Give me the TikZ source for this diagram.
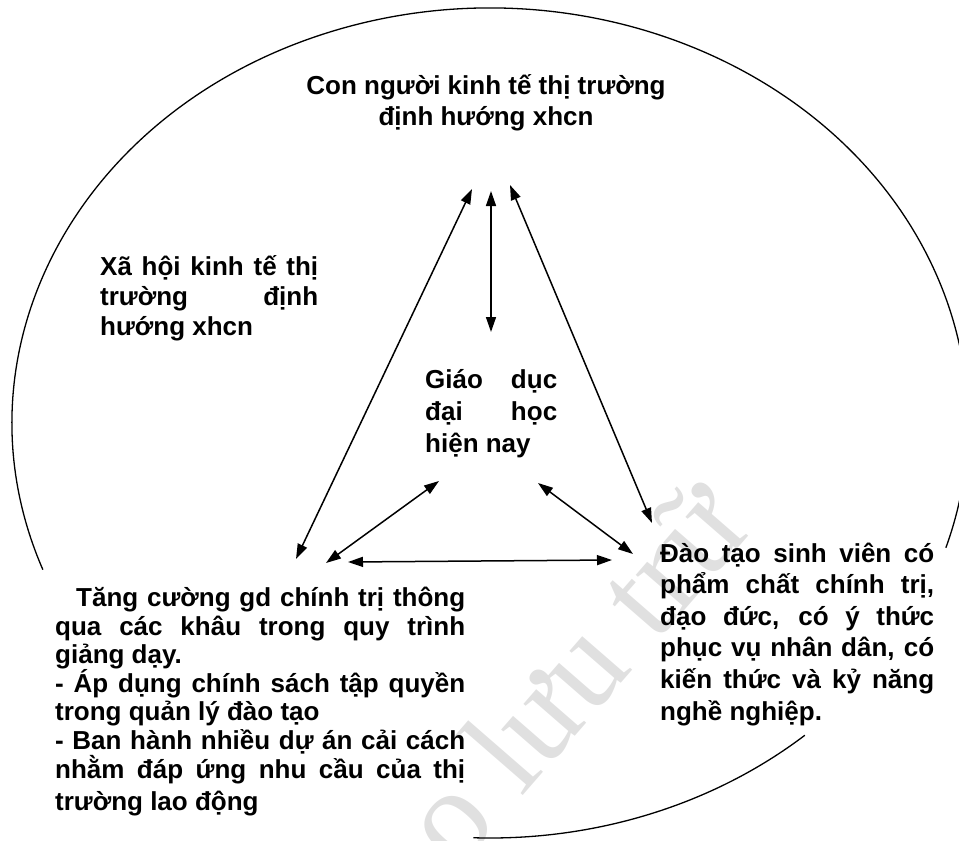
\documentclass[tikz,border=0pt]{standalone}
\usepackage{fontspec}
\setmainfont{Liberation Sans}
\newfontfamily\wmfont{Liberation Serif}
\usetikzlibrary{arrows.meta}
\newcommand{\jl}[2]{\makebox[#1pt][s]{#2}}
\begin{document}
\begin{tikzpicture}[x=1pt,y=1pt,
  txt/.style={font=\bfseries\fontsize{26}{31}\selectfont, inner sep=0pt, align=left, anchor=base west},
  link/.style={line width=1.5pt, {Triangle[length=15pt,width=10pt]}-{Triangle[length=15pt,width=10pt]}},
  rim/.style={line width=1.3pt}]
\useasboundingbox (0,0) rectangle (959,-841);
\clip (0,0) rectangle (959,-841);
% watermark
\node[rotate=49, text=black!12, font=\wmfont\fontsize{130}{130}\selectfont, inner sep=0pt] (wm) at (572,-672) {o lưu trữ};
% outer ellipse
\draw[rim] (490,-423) ++(200.7:478pt and 415pt) arc[start angle=200.7, end angle=-17.5, x radius=478pt, y radius=415pt];
\draw[rim] (490,-423) ++(-48.8:478pt and 415pt) arc[start angle=-48.8, end angle=-92, x radius=478pt, y radius=415pt];
% texts (anchor = baseline of the last line)
\node[txt, align=center, anchor=base] (top) at (486,-125)
  {Con người kinh tế thị trường\\định hướng xhcn};
\node[txt, font=\bfseries\fontsize{26}{30}\selectfont] (soc) at (100,-335)
  {\jl{218}{Xã hội kinh tế thị}\\\jl{218}{trường định}\\hướng xhcn};
\node[txt, font=\bfseries\fontsize{26}{32}\selectfont] (edu) at (425,-452)
  {\jl{132}{Giáo dục}\\\jl{132}{đại học}\\hiện nay};
\node[txt, font=\bfseries\fontsize{26}{28.6}\selectfont] (pol) at (55,-810)
  {\hspace*{21pt}\jl{389}{Tăng cường gd chính trị thông}\\
   \jl{410}{qua các khâu trong quy trình}\\
   giảng dạy.\\
   \jl{410}{- Áp dụng chính sách tập quyền}\\
   trong quản lý đào tạo\\
   \jl{410}{- Ban hành nhiều dự án cải cách}\\
   \jl{410}{nhằm đáp ứng nhu cầu của thị}\\[3.4pt]
   trường lao động};
\node[txt, font=\bfseries\fontsize{26}{31.6}\selectfont] (stu) at (660,-720)
  {\jl{274}{Đào tạo sinh viên có}\\
   \jl{274}{phẩm chất chính trị,}\\
   \jl{274}{đạo đức, có ý thức}\\
   \jl{274}{phục vụ nhân dân, có}\\
   \jl{274}{kiến thức và kỷ năng}\\
   nghề nghiệp.};
% arrow end points
\coordinate (tl) at (472,-189);
\coordinate (bl1) at (296,-559);
\coordinate (tm) at (491,-191);
\coordinate (cm) at (491,-332);
\coordinate (tr) at (510,-185);
\coordinate (br1) at (652,-523);
\coordinate (bl2) at (326,-563);
\coordinate (cl) at (439,-481);
\coordinate (cr) at (538,-483);
\coordinate (br2) at (633,-554);
\coordinate (bl3) at (348,-562);
\coordinate (br3) at (612,-560);
\draw[link] (bl1) -- (tl);
\draw[link] (cm) -- (tm);
\draw[link] (br1) -- (tr);
\draw[link] (bl2) -- (cl);
\draw[link] (cr) -- (br2);
\draw[link] (bl3) -- (br3);
\end{tikzpicture}
\end{document}
